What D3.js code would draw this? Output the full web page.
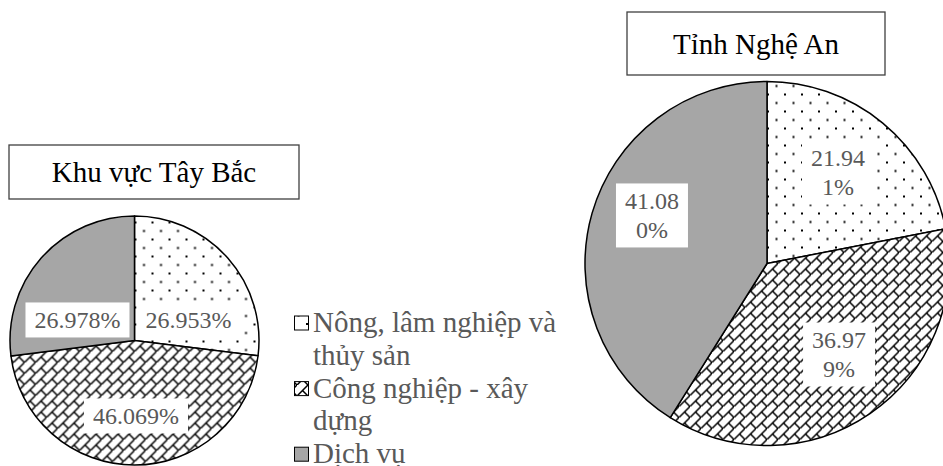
<!DOCTYPE html>
<html>
<head>
<meta charset="utf-8">
<script src="https://cdn.jsdelivr.net/npm/d3@7"></script>
<style>
  body { margin: 0; background: #fff; }
  svg { display: block; font-family: "Liberation Serif", "Times New Roman", serif; }
</style>
</head>
<body>
<svg id="chart" width="943" height="466"></svg>
<script>
// data
var categories = ["Nông, lâm nghiệp và thủy sản", "Công nghiệp - xây dựng", "Dịch vụ"];
var legendLines = [["Nông, lâm nghiệp và", "thủy sản"], ["Công nghiệp - xây", "dựng"], ["Dịch vụ"]];
var regions = ["Khu vực Tây Bắc", "Tỉnh Nghệ An"];
var tayBacValues = [26.953, 46.069, 26.978];
var ngheAnValues = [21.941, 36.979, 41.080];

// layout (not data)
var pies = [
    { title: regions[0], values: tayBacValues, cx: 134.5, cy: 340.5, r: 124.5,
      box: [9, 145, 290, 54], wrap: false,
      labelPos: [[0.434, -0.165], [0.012, 0.606], [-0.458, -0.165]] },
    { title: regions[1], values: ngheAnValues, cx: 767, cy: 263.5, r: 182,
      box: [627, 12, 258, 63], wrap: true,
      labelPos: [[0.39, -0.5], [0.396, 0.5], [-0.632, -0.264]] }
];
var fills = ["url(#dots)", "url(#brick)", "#a6a6a6"];
var textColor = "#595959";

const svg = d3.select("svg#chart");
svg.append("rect").attr("width", 943).attr("height", 466).attr("fill", "#fff");

// patterns
let defs = svg.append("defs");
let dots = defs.append("pattern")
    .attr("id", "dots")
    .attr("patternUnits", "userSpaceOnUse")
    .attr("width", 17).attr("height", 17);
dots.append("rect").attr("width", 17).attr("height", 17).attr("fill", "#fff");
dots.append("rect").attr("x", 0).attr("y", 0).attr("width", 2).attr("height", 2).attr("fill", "#000");
dots.append("rect").attr("x", 8.5).attr("y", 8.5).attr("width", 2).attr("height", 2).attr("fill", "#000");

let brick = defs.append("pattern")
    .attr("id", "brick")
    .attr("patternUnits", "userSpaceOnUse")
    .attr("width", 11).attr("height", 11);
brick.append("rect").attr("width", 11).attr("height", 11).attr("fill", "#fff");
brick.append("path")
    .attr("d", "M-1,12 L12,-1 M5.5,5.5 L12,12")
    .attr("stroke", "#000")
    .attr("stroke-width", 1.5)
    .attr("fill", "none");

let pie = d3.pie().sort(null).value(d => d);
let fmt = d3.format(".3f");

pies.forEach(p => {
    // title box
    svg.append("rect")
        .attr("x", p.box[0]).attr("y", p.box[1])
        .attr("width", p.box[2]).attr("height", p.box[3])
        .attr("fill", "#fff")
        .attr("stroke", "#404040")
        .attr("stroke-width", 1.3);
    svg.append("text")
        .attr("x", p.box[0] + p.box[2] / 2)
        .attr("y", p.box[1] + p.box[3] / 2)
        .attr("dy", "0.35em")
        .style("text-anchor", "middle")
        .style("font-size", "29px")
        .attr("fill", "#000")
        .text(p.title);

    let arc = d3.arc().innerRadius(0).outerRadius(p.r);
    let g = svg.append("g").attr("transform", "translate(" + p.cx + "," + p.cy + ")");
    g.selectAll("path")
        .data(pie(p.values))
        .enter().append("path")
        .attr("d", arc)
        .attr("fill", (d, i) => fills[i])
        .attr("stroke", "#000")
        .attr("stroke-width", 1.5)
        .attr("stroke-linejoin", "round");

    // labels
    p.values.forEach((v, i) => {
        let s = fmt(v) + "%";
        let lines = p.wrap ? [s.substring(0, 5), s.substring(5)] : [s];
        let lx = p.labelPos[i][0] * p.r;
        let ly = p.labelPos[i][1] * p.r;
        let lg = g.append("g");
        let bg = lg.append("rect").attr("fill", "#fff");
        let t = lg.append("text")
            .style("text-anchor", "middle")
            .style("font-size", "24px")
            .attr("fill", textColor);
        let lh = 29;
        lines.forEach((l, k) => {
            t.append("tspan")
                .attr("x", lx)
                .attr("y", ly + (k - (lines.length - 1) / 2) * lh)
                .attr("dy", "0.35em")
                .text(l);
        });
        let bb = t.node().getBBox();
        let w = bb.width + 18;
        let h = lines.length * lh + 6;
        bg.attr("x", lx - w / 2).attr("y", ly - h / 2)
            .attr("width", w).attr("height", h);
    });
});

// legend
let legend = svg.append("g").attr("id", "legend");
let baseY = 332;
let lineH = 32.8;
let row = 0;
legendLines.forEach((lines, i) => {
    let y = baseY + row * lineH;
    legend.append("rect")
        .attr("x", 294.5).attr("y", y - 16)
        .attr("width", 14).attr("height", 14)
        .attr("fill", fills[i])
        .attr("stroke", "#000")
        .attr("stroke-width", 1);
    lines.forEach((l, k) => {
        legend.append("text")
            .attr("x", 313)
            .attr("y", baseY + (row + k) * lineH)
            .style("font-size", "29px")
            .attr("fill", textColor)
            .text(l);
    });
    row += lines.length;
});
</script>
</body>
</html>
